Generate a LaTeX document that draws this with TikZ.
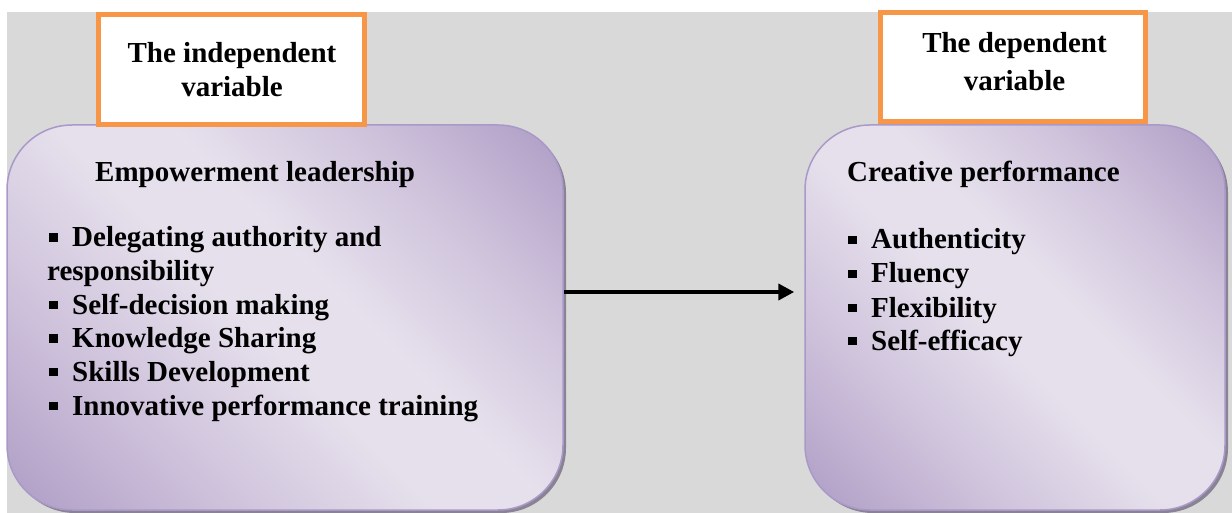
\documentclass[tikz,border=0pt]{standalone}
\usepackage{fontspec}
\setmainfont{Liberation Serif}
\usetikzlibrary{shadows,arrows.meta,calc}

\definecolor{bgray}{HTML}{D9D9D9}
\definecolor{orng}{HTML}{F79646}
\definecolor{pdark}{HTML}{B3A2C8}
\definecolor{pmid}{HTML}{CFC3DC}
\definecolor{plight}{HTML}{E6E0EC}
\definecolor{pedge}{HTML}{A999C8}
\definecolor{pshadow}{HTML}{8A8393}

% diagonal lavender gradient: dark corners, pale middle band
\pgfdeclarehorizontalshading{lavender}{100bp}{color(0bp)=(pdark); color(17bp)=(pdark); color(32bp)=(pmid); color(47bp)=(plight); color(56bp)=(plight); color(70bp)=(pmid); color(83bp)=(pdark); color(100bp)=(pdark)}

\newcommand{\sqbullet}{\rule[5pt]{8.5pt}{8.5pt}\hspace{14.5pt}}

\tikzset{
  varbox/.style={draw=pedge, line width=1.5pt, rounded corners=65pt,
    shading=lavender, shading angle=45, inner sep=0pt,
    drop shadow={shadow xshift=3pt, shadow yshift=-3pt, fill=pshadow, opacity=1}},
  titlebox/.style={draw=orng, line width=5pt, fill=white, inner sep=0pt},
  txt/.style={anchor=base west, inner sep=0pt, font=\fontsize{29}{34}\selectfont\bfseries},
  ttl/.style={anchor=base, inner sep=0pt, font=\fontsize{29}{34}\selectfont\bfseries},
  link/.style={line width=4pt, -{Triangle[length=16pt,width=16pt]}}
}

\begin{document}
\begin{tikzpicture}[x=1pt,y=-1pt]
\useasboundingbox (0,0) rectangle (1232,513);
\fill[bgray] (7,12) rectangle (1232,513);

% the two variable panels
\node[varbox, minimum width=556pt, minimum height=385pt] (L) at (285,317.5) {};
\node[varbox, minimum width=420pt, minimum height=385pt] (R) at (1015,317.5) {};

% relation
\coordinate (a0) at ($(L.east)+(0,-25.5)$);
\coordinate (a1) at ($(R.west)+(-10,-25.5)$);
\draw[link] (a0) -- (a1);

% headers
\node[titlebox, minimum width=266pt, minimum height=110pt] (TL) at (231.5,69.5) {};
\node[titlebox, minimum width=265pt, minimum height=109pt] (TR) at (1013,67) {};
\node[ttl] (tl1) at (232,63) {The independent};
\node[ttl] (tl2) at (232,97) {variable};
\node[ttl] (tr1) at (1014.5,53) {The dependent};
\node[ttl] (tr2) at (1014.5,91) {variable};

% independent variable content
\node[txt] (l0) at (95,182) {Empowerment leadership};
\node[txt] (l1) at (49,247) {\sqbullet Delegating authority and};
\node[txt] (l2) at (47,280.6) {responsibility};
\node[txt] (l3) at (49,314) {\sqbullet Self-decision making};
\node[txt] (l4) at (49,347.6) {\sqbullet Knowledge Sharing};
\node[txt] (l5) at (49,381) {\sqbullet Skills Development};
\node[txt] (l6) at (49,415) {\sqbullet Innovative performance training};

% dependent variable content
\node[txt] (r0) at (847,182) {Creative performance};
\node[txt] (r1) at (848,249) {\sqbullet Authenticity};
\node[txt] (r2) at (848,283) {\sqbullet Fluency};
\node[txt] (r3) at (848,317) {\sqbullet Flexibility};
\node[txt] (r4) at (848,350) {\sqbullet Self-efficacy};
\end{tikzpicture}
\end{document}
